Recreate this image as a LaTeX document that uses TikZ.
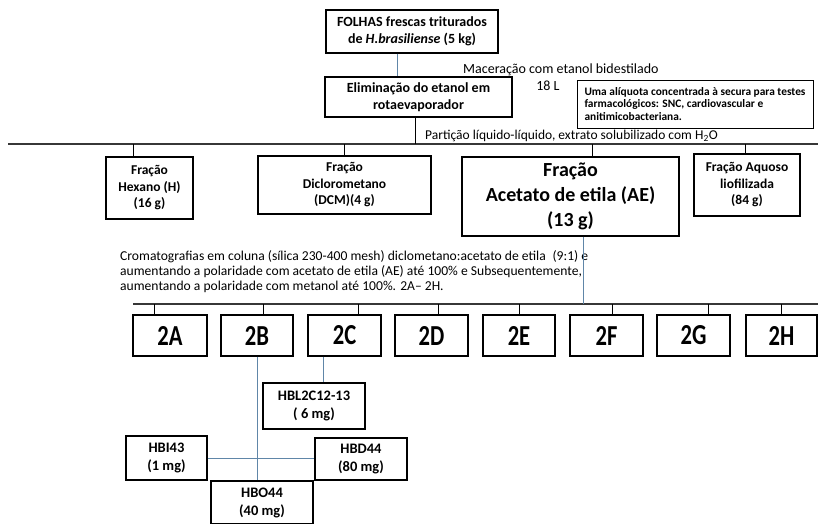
\documentclass[tikz,border=0pt]{standalone}
\usepackage{fontspec}
\setmainfont{Carlito}
\usepackage{graphicx}
\definecolor{conncol}{RGB}{96,134,168}
\definecolor{buscol}{RGB}{55,55,55}
\begin{document}
\begin{tikzpicture}[x=1pt,y=-1pt,
  box/.style={draw=black, line width=1.3pt, inner sep=0pt, align=center,
    font=\bfseries\fontsize{14}{17}\selectfont},
  frbox/.style={box, font=\bfseries\fontsize{13.5}{16.5}\selectfont},
  aebox/.style={box, font=\bfseries\fontsize{20}{25}\selectfont},
  gbox/.style={box, minimum height=41pt, font=\bfseries\fontsize{29}{29}\selectfont},
  hbox/.style={box, font=\bfseries\fontsize{14.5}{18}\selectfont},
  notebox/.style={draw=black, line width=1pt, inner sep=0pt, align=left,
    font=\bfseries\fontsize{11.4}{12.8}\selectfont},
  plain/.style={inner sep=0pt, font=\fontsize{14}{16}\selectfont},
  busline/.style={draw=buscol, line width=1.4pt},
  tickline/.style={draw=black, line width=1pt},
  connline/.style={draw=conncol, line width=1pt}]
\useasboundingbox (0,0) rectangle (818,523);

% top part
\node[box, minimum width=172pt, minimum height=43pt] (folhas) at (412,31.5)
  {FOLHAS frescas triturados\\de \textit{H.brasiliense} (5 kg)};
\node[box, minimum width=187pt, minimum height=40pt] (elim) at (418.5,97)
  {Eliminação do etanol em\\rotaevaporador};
\node[plain, anchor=west] (mac) at (463,70) {Maceração com etanol bidestilado};
\node[plain] (vol) at (548,86) {18 L};
\node[notebox, minimum width=236pt, minimum height=48pt] (aliq) at (695,104)
  {Uma alíquota concentrada à secura para testes\\farmacológicos: SNC, cardiovascular e\\anitimicobacteriana.};
\node[plain, anchor=west, font=\fontsize{13.5}{16}\selectfont] (part) at (425,136)
  {Partição líquido-líquido, extrato solubilizado com H\textsubscript{2}O};

\coordinate (busAL) at (8,144);
\coordinate (busAR) at (818,144);
\draw[busline] (busAL) -- (busAR);

\draw[connline] ([xshift=-15pt]folhas.south) -- ([xshift=-15pt]folhas.south |- elim.north);
\draw[tickline] ([xshift=-3.5pt]elim.south) -- ([xshift=-3.5pt]elim.south |- busAL);

% fractions
\node[frbox, minimum width=87pt, minimum height=62pt] (hex) at (149.5,188)
  {Fração\\Hexano (H)\\(16 g)};
\node[frbox, minimum width=173pt, minimum height=58pt] (dcm) at (344.5,185)
  {Fração\\Diclorometano\\(DCM)(4 g)};
\node[aebox, minimum width=217pt, minimum height=79pt] (ae) at (570.5,196.5)
  {Fração\\Acetato de etila (AE)\\(13 g)};
\node[frbox, minimum width=106pt, minimum height=62pt] (aq) at (747,185)
  {Fração Aquoso\\liofilizada\\(84 g)};

\draw[tickline] ([xshift=-16.5pt]hex.north) -- ([xshift=-16.5pt]hex.north |- busAL);
\draw[tickline] (dcm.north) -- (dcm.north |- busAL);
\draw[tickline] ([xshift=21.5pt]ae.north) -- ([xshift=21.5pt]ae.north |- busAL);
\draw[tickline] ([xshift=-2pt]aq.north) -- ([xshift=-2pt]aq.north |- busAL);

\node[inner sep=0pt, anchor=north west, align=left, font=\fontsize{13.6}{15}\selectfont] (crom) at (120,250)
  {Cromatografias em coluna (sílica 230-400 mesh) diclometano:acetato de etila\enspace(9:1) e\\
   aumentando a polaridade com acetato de etila (AE) até 100\% e Subsequentemente,\\
   aumentando a polaridade com metanol até 100\%. 2A– 2H.};

% column fractions
\coordinate (busBL) at (133,304);
\coordinate (busBR) at (818,304);
\draw[busline] (busBL) -- (busBR);
\draw[connline] ([xshift=13pt]ae.south) -- ([xshift=13pt]ae.south |- busBL);

\node[gbox, minimum width=74pt] (fA) at (170,335.5) {\scalebox{0.78}[1]{2A}};
\node[gbox, minimum width=72pt] (fB) at (257,335.5) {\scalebox{0.78}[1]{2B}};
\node[gbox, minimum width=73pt] (fC) at (344.5,335.5) {\scalebox{0.78}[1]{2C}};
\node[gbox, minimum width=73pt] (fD) at (431.5,335.5) {\scalebox{0.78}[1]{2D}};
\node[gbox, minimum width=72pt] (fE) at (519,335.5) {\scalebox{0.78}[1]{2E}};
\node[gbox, minimum width=73pt] (fF) at (606.5,335.5) {\scalebox{0.78}[1]{2F}};
\node[gbox, minimum width=73pt] (fG) at (693.5,335.5) {\scalebox{0.78}[1]{2G}};
\node[gbox, minimum width=71pt] (fH) at (781.5,335.5) {\scalebox{0.78}[1]{2H}};

\draw[tickline] ([xshift=-16pt]fA.north) -- ([xshift=-16pt]fA.north |- busBL);
\draw[tickline] ([xshift=6pt]fB.north) -- ([xshift=6pt]fB.north |- busBL);
\draw[tickline] ([xshift=13.5pt]fC.north) -- ([xshift=13.5pt]fC.north |- busBL);
\draw[tickline] ([xshift=6.5pt]fD.north) -- ([xshift=6.5pt]fD.north |- busBL);
\draw[tickline] (fE.north) -- (fE.north |- busBL);
\draw[tickline] ([xshift=5.5pt]fF.north) -- ([xshift=5.5pt]fF.north |- busBL);
\draw[tickline] ([xshift=14.5pt]fG.north) -- ([xshift=14.5pt]fG.north |- busBL);
\draw[tickline] (fH.north) -- (fH.north |- busBL);

% isolated compounds
\node[hbox, minimum width=102pt, minimum height=46pt] (hbl) at (314,406) {HBL2C12-13\\( 6 mg)};
\node[hbox, minimum width=81pt, minimum height=44pt] (hbi) at (166.5,458) {HBI43\\(1 mg)};
\node[hbox, minimum width=92pt, minimum height=42pt] (hbd) at (361,459) {HBD44\\(80 mg)};
\node[hbox, minimum width=102pt, minimum height=43pt] (hbo) at (262,502.5) {HBO44\\(40 mg)};

\draw[connline] ([xshift=-21.5pt]fC.south) -- ([xshift=-21.5pt]fC.south |- hbl.north);
\draw[connline] (fB.south) -- (fB.south |- hbo.north);
\draw[connline] (hbi.east) -- (hbi.east -| hbd.west);
\end{tikzpicture}
\end{document}
